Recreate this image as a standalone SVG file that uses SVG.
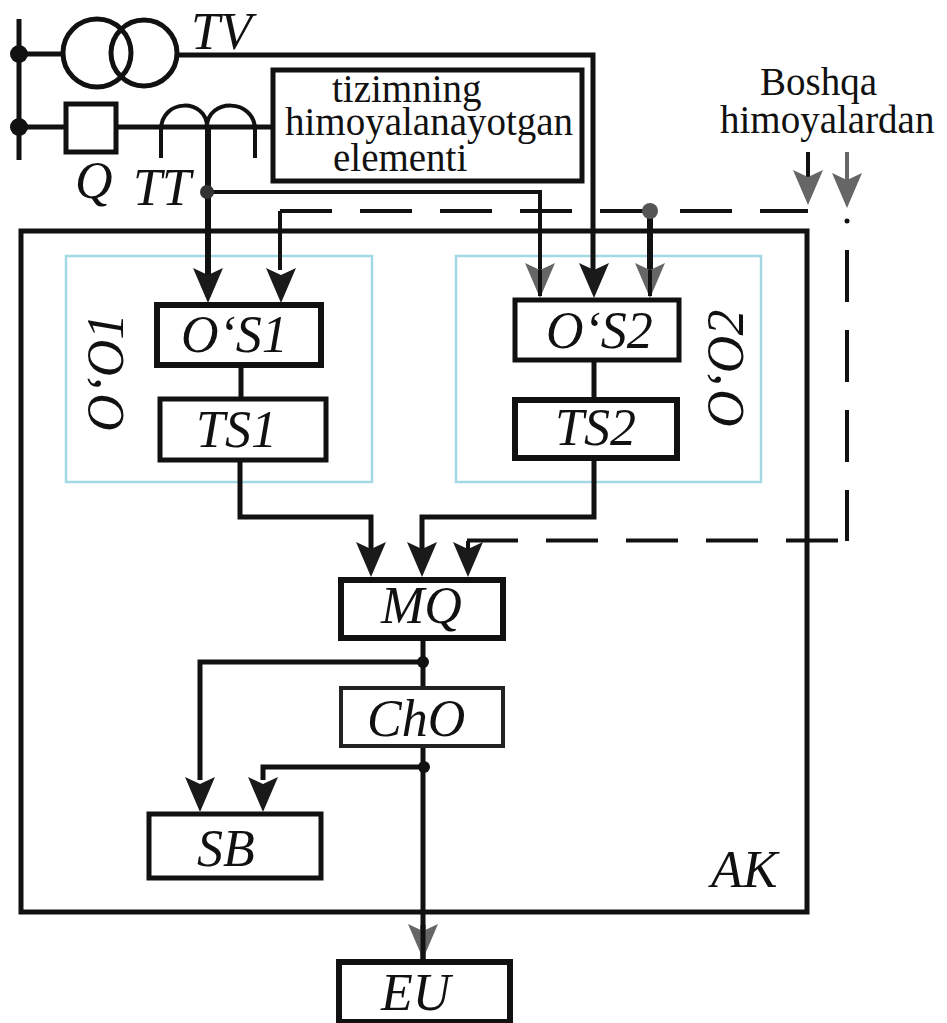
<svg xmlns="http://www.w3.org/2000/svg" width="947" height="1023" viewBox="0 0 947 1023">
<style>
.w{stroke:#111;fill:none;stroke-width:5}
.t{stroke:#111;fill:none;stroke-width:4}
.g{stroke:#111;fill:none;stroke-width:6}
.d{stroke:#111;fill:none;stroke-width:4;stroke-dasharray:52 28}
.b{fill:#fff;stroke:#111;stroke-width:5}
.h{stroke-width:6}
.o{fill:none;stroke:#a3d9e5;stroke-width:2.5}
.l{font-family:"Liberation Serif","Times New Roman",serif;font-style:italic;font-size:52px;fill:#111}
.n{font-family:"Liberation Serif","Times New Roman",serif;font-size:39px;fill:#111}
.a{fill:#1a1a1a}
.ag{fill:#666}
</style>
<defs>
<path id="ah" d="M-15,-35 L0,-28 L15,-35 L0,0 Z"/>
</defs>
<rect width="947" height="1023" fill="#fff"/>
<g id="aktiv-frame"><rect class="w" x="21" y="231" width="786" height="681"/><text class="l" x="711" y="887">AK</text></g>
<g id="OO1"><rect class="o" x="66" y="256" width="306" height="226"/><text class="l" transform="translate(123,432) rotate(-90)">O‘O1</text></g>
<g id="OO2"><rect class="o" x="456" y="256" width="305" height="226"/><text class="l" transform="translate(743,428) rotate(-90)">O‘O2</text></g>
<g id="connectors">
<path class="w" d="M178,55H593V270"/>
<path class="w" d="M19,127H272"/>
<path class="t" d="M161,158V130C161,98 207,98 207,127C207,98 255,98 255,130V158"/>
<path class="g" d="M208,127V275"/>
<path class="t" d="M207,192H540V275"/>
<path class="d" d="M280,211H808"/>
<path class="t" d="M280,270V211"/>
<path class="g" d="M650,211V290"/>
<path class="t" d="M808,152V190"/>
<path stroke="#666" stroke-width="4" d="M847,152V190"/>
<path class="d" d="M847,250V541"/>
<path class="d" d="M838,540.500H467"/>
<path class="t" d="M468,541V550"/>
<path class="w" d="M241,365V397"/>
<path class="w" d="M594,362V397"/>
<path class="w" d="M240,462V517H371V550"/>
<path class="w" d="M594,460V517H422V550"/>
<path class="w" d="M423,640V686"/>
<path class="w" d="M423,662H200V780"/>
<path class="w" d="M423,748V960"/>
<path class="w" d="M424,767H263V780"/>
<use href="#ah" class="a" x="208" y="303"/>
<use href="#ah" class="a" x="281" y="303"/>
<use href="#ah" class="ag" x="540" y="298"/>
<use href="#ah" class="a" x="594" y="298"/>
<use href="#ah" class="ag" x="650" y="298"/>
<path class="t" d="M540,270V296M650,270V296"/>
<use href="#ah" class="ag" x="808" y="205"/>
<use href="#ah" class="ag" x="847" y="208"/>
<use href="#ah" class="a" x="371" y="577"/>
<use href="#ah" class="a" x="422" y="577"/>
<use href="#ah" class="a" x="468" y="577"/>
<use href="#ah" class="a" x="200" y="812"/>
<use href="#ah" class="a" x="263" y="812"/>
<use href="#ah" class="ag" x="423" y="959"/>
<path class="w" d="M423,925V959"/>
<circle cx="19" cy="54" r="9" fill="#111"/>
<circle cx="19" cy="127" r="9" fill="#111"/>
<circle cx="207" cy="192" r="7" fill="#333"/>
<circle cx="650" cy="211" r="8" fill="#555"/>
<circle cx="423" cy="662" r="6" fill="#111"/>
<circle cx="424" cy="767" r="6" fill="#111"/>
<circle cx="847" cy="221" r="2.500" fill="#111"/>
</g>
<g id="bus"><path class="w" d="M19,19V160M19,54H62"/></g>
<g id="TV"><circle class="w" cx="97" cy="53" r="34" stroke-width="6"/><circle class="w" cx="144" cy="53" r="33"/><text class="l" x="191" y="49">TV</text></g>
<g id="Q"><rect class="b" x="66" y="104" width="50" height="48"/><text class="l" x="75" y="198">Q</text></g>
<g id="TT"><text class="l" x="133" y="205">TT</text></g>
<g id="element"><rect class="b" x="273" y="70" width="309" height="111"/><text class="n" x="332" y="102">tizimning</text><text class="n" x="285" y="135">himoyalanayotgan</text><text class="n" x="333" y="171">elementi</text></g>
<g id="other"><text class="n" x="760" y="95">Boshqa</text><text class="n" x="720" y="133">himoyalardan</text></g>
<g id="OS1"><rect class="b h" x="157" y="305" width="164" height="60"/><text class="l" x="181" y="352">O‘S1</text></g>
<g id="TS1"><rect class="b" x="160" y="399" width="166" height="61"/><text class="l" x="196" y="447">TS1</text></g>
<g id="OS2"><rect class="b" x="515" y="300" width="164" height="60"/><text class="l" x="546" y="348">O‘S2</text></g>
<g id="TS2"><rect class="b h" x="515" y="400" width="162" height="58"/><text class="l" x="555" y="445">TS2</text></g>
<g id="MQ"><rect class="b h" x="341" y="580" width="162" height="58"/><text class="l" x="381" y="623">MQ</text></g>
<g id="ChO"><rect class="b" style="stroke-width:4;stroke:#222" x="341" y="688" width="162" height="58"/><text class="l" x="367" y="736">ChO</text></g>
<g id="SB"><rect class="b" x="149" y="814" width="172" height="64"/><text class="l" x="197" y="866">SB</text></g>
<g id="EU"><rect class="b h" x="339" y="962" width="171" height="60"/><text class="l" x="381" y="1010">EU</text></g>
</svg>
